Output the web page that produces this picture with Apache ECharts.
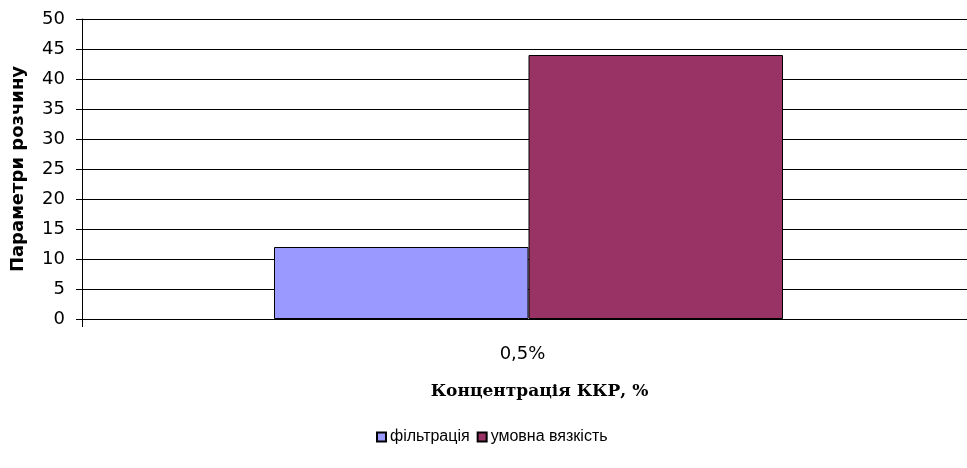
<!DOCTYPE html>
<html>
<head>
<meta charset="utf-8">
<script src="https://cdn.jsdelivr.net/npm/echarts@6/dist/echarts.min.js"></script>
<style>
  html, body { margin: 0; padding: 0; background: #fff; }
  #chart { width: 967px; height: 468px; }
</style>
</head>
<body>
<div id="chart"></div>
<script>
// дані з графіка
const categories = ['0,5%']
const filtration = [12]
const viscosity = [44]
const seriesNames = ['фільтрація', 'умовна вязкість']

const chart = echarts.init(document.getElementById('chart'))

const option = {
  animation: false,
  backgroundColor: '#fff',
  grid: {
    left: 82,
    top: 19,
    right: -8,
    bottom: 149,
    outerBoundsMode: 'none'
  },
  legend: {
    top: 424,
    left: 371,
    itemWidth: 9,
    itemHeight: 9,
    itemGap: 7,
    icon: 'rect',
    textStyle: {
      fontFamily: 'Liberation Sans',
      fontSize: 16,
      color: '#000',
      padding: [0, 0, 0, -1]
    },
    data: seriesNames
  },
  xAxis: {
    type: 'category',
    data: categories,
    name: 'Концентрація ККР, %',
    nameLocation: 'middle',
    nameGap: 64,
    nameTextStyle: {
      fontFamily: 'DejaVu Serif',
      fontWeight: 'bold',
      fontSize: 17,
      color: '#000',
      padding: [0, 0, 0, 22]
    },
    axisLine: { lineStyle: { color: '#000', width: 1 } },
    axisTick: { show: true, length: 8, lineStyle: { color: '#000' } },
    axisLabel: {
      margin: 26,
      fontFamily: 'DejaVu Sans',
      fontSize: 18,
      color: '#000',
      padding: [0, 12, 0, 0]
    }
  },
  yAxis: {
    type: 'value',
    min: 0,
    max: 50,
    interval: 5,
    name: 'Параметри розчину',
    nameLocation: 'middle',
    nameGap: 55,
    nameTextStyle: {
      fontFamily: 'DejaVu Sans',
      fontWeight: 'bold',
      fontSize: 18,
      color: '#000'
    },
    axisLine: { show: true, lineStyle: { color: '#000', width: 1 } },
    axisTick: { show: true, length: 6, lineStyle: { color: '#000' } },
    axisLabel: {
      margin: 17,
      fontFamily: 'DejaVu Sans',
      fontSize: 18,
      color: '#000'
    },
    splitLine: { lineStyle: { color: '#000', width: 1 } }
  },
  series: [
    {
      name: seriesNames[0],
      type: 'bar',
      data: filtration,
      barGap: '0%',
      barCategoryGap: '43%',
      itemStyle: { color: '#9999FF', borderColor: '#000', borderWidth: 1 }
    },
    {
      name: seriesNames[1],
      type: 'bar',
      data: viscosity,
      itemStyle: { color: '#993366', borderColor: '#000', borderWidth: 1 }
    }
  ]
}

chart.setOption(option)
window.addEventListener('resize', chart.resize)
</script>
</body>
</html>
